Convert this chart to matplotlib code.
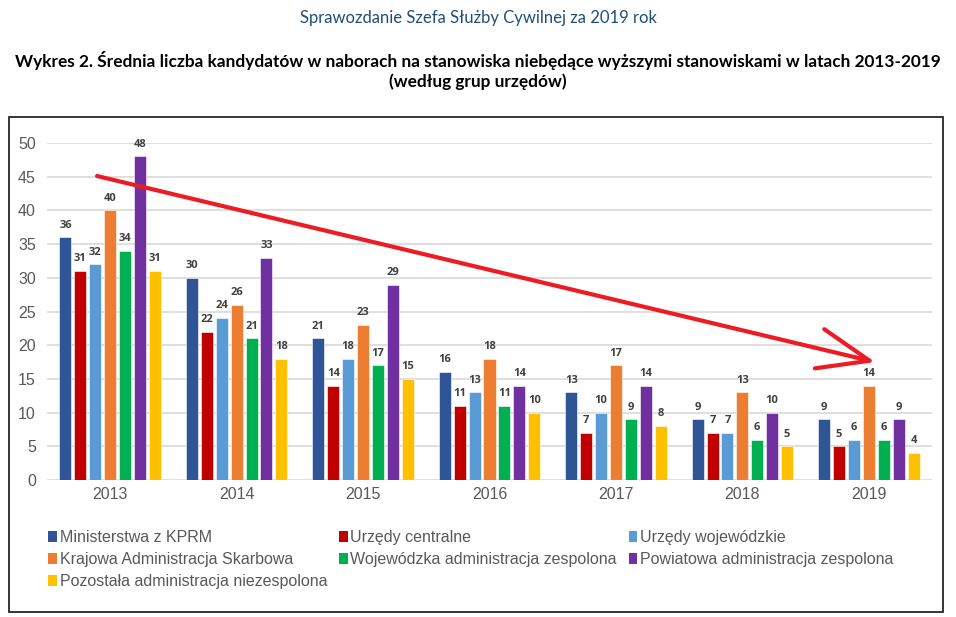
import matplotlib
matplotlib.use('Agg')
import matplotlib.pyplot as plt
import numpy as np
from matplotlib.patches import Rectangle, Patch

plt.rcParams['font.family'] = ['Liberation Sans', 'DejaVu Sans']

years = ['2013', '2014', '2015', '2016', '2017', '2018', '2019']
series_names = [
    'Ministerstwa z KPRM',
    'Urzędy centralne',
    'Urzędy wojewódzkie',
    'Krajowa Administracja Skarbowa',
    'Wojewódzka administracja zespolona',
    'Powiatowa administracja zespolona',
    'Pozostała administracja niezespolona',
]
ministerstwa = [36, 30, 21, 16, 13, 9, 9]
centralne = [31, 22, 14, 11, 7, 7, 5]
wojewodzkie = [32, 24, 18, 13, 10, 7, 6]
kas = [40, 26, 23, 18, 17, 13, 14]
woj_zespolona = [34, 21, 17, 11, 9, 6, 6]
powiatowa = [48, 33, 29, 14, 14, 10, 9]
pozostala = [31, 18, 15, 10, 8, 5, 4]
series = [ministerstwa, centralne, wojewodzkie, kas, woj_zespolona, powiatowa, pozostala]
colors = ['#2F5597', '#C00000', '#5B9BD5', '#ED7D31', '#00B050', '#7030A0', '#FFC000']

fig = plt.figure(figsize=(9.56, 6.17), dpi=100)
ax = fig.add_axes([47 / 956, 1 - 480 / 617, 885 / 956, 337 / 617])

# tytuły
fig.text(0.5, 1 - 18 / 617, 'Sprawozdanie Szefa Służby Cywilnej za 2019 rok',
         ha='center', va='center', fontsize=12.0, color='#1F4E79', family='Lato')
fig.text(0.5, 1 - 60 / 617,
         'Wykres 2. Średnia liczba kandydatów w naborach na stanowiska niebędące wyższymi stanowiskami w latach 2013-2019',
         ha='center', va='center', fontsize=12.4, fontweight='bold', color='black', family='Lato')
fig.text(0.5, 1 - 82 / 617, '(według grup urzędów)',
         ha='center', va='center', fontsize=12.4, fontweight='bold', color='black', family='Lato')

# ramka wykresu
fig.patches.append(Rectangle((9 / 956, 1 - 612 / 617), 934 / 956, 495 / 617,
                             transform=fig.transFigure, fill=False,
                             edgecolor='#262626', linewidth=1.3))

x = np.arange(len(years))
step = 0.118
width = 0.095
for i, (vals, c) in enumerate(zip(series, colors)):
    pos = x + (i - 3) * step
    bars = ax.bar(pos, vals, width, color=c, edgecolor='white', linewidth=0.4, zorder=3)
    for b, v in zip(bars, vals):
        ax.text(b.get_x() + b.get_width() / 2, v + 1.0, str(v), ha='center', va='bottom',
                fontsize=8, fontweight='bold', color='#404040', family='Open Sans')

ax.set_xlim(-0.5, len(years) - 0.5)
ax.set_ylim(0, 50)
ax.set_yticks(range(0, 51, 5))
ax.set_xticks(x)
ax.set_xticklabels(years)
ax.yaxis.grid(True, color='#D9D9D9', linewidth=1.2)
ax.set_axisbelow(True)
for s in ax.spines.values():
    s.set_visible(False)
ax.tick_params(length=0, labelsize=11.5, labelcolor='#595959')
ax.tick_params(axis='y', pad=8)
ax.tick_params(axis='x', pad=5)

# strzałka trendu
ax.annotate('', xy=(6.05, 17.5), xytext=(-0.104, 45.1),
            arrowprops=dict(arrowstyle='->,head_length=3.7,head_width=1.45',
                            color='#ED1C24', lw=3, mutation_scale=10,
                            shrinkA=0, shrinkB=0),
            annotation_clip=False)

handles = [Patch(facecolor=c, edgecolor='none') for c in colors]
order = [0, 3, 6, 1, 4, 2, 5]
leg = fig.legend([handles[i] for i in order], [series_names[i] for i in order],
                 ncol=3, loc='upper left', bbox_to_anchor=(34 / 956, 1 - 516 / 617),
                 frameon=False, fontsize=11.5, handlelength=0.55, handleheight=0.7,
                 handletextpad=0.15, columnspacing=0.75, labelspacing=0.42)
for t in leg.get_texts():
    t.set_color('#595959')

fig.savefig('out.png', dpi=100)
